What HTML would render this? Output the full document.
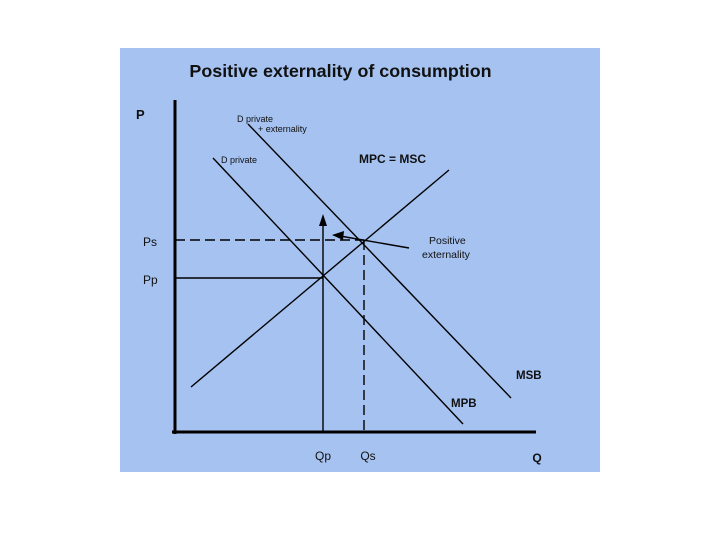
<!DOCTYPE html>
<html><head><meta charset="utf-8"><style>
html,body{margin:0;padding:0;background:#fff;}
svg{display:block;font-family:"Liberation Sans",Arial,sans-serif;}
</style></head><body>
<svg width="720" height="540" viewBox="0 0 720 540">
<rect x="120" y="48" width="480" height="424" fill="#a5c2f1"/>
<text x="340.5" y="77" text-anchor="middle" font-size="17.9" font-weight="bold" fill="#111">Positive externality of consumption</text>
<g id="plot"></g>
</svg>
<script>
// Data units: quantity (0..361) and price (0..332)
const curveNames = ['d-private','d-private-externality','mpc-msc'];
const curveQ1 = [38, 73, 16];
const curveP1 = [274, 308, 45];
const curveQ2 = [288, 336, 274];
const curveP2 = [8, 34, 262];
const Qp = 148, Qs = 189, Pp = 154, Ps = 192;
const labels = ['P','Ps','Pp','Qp','Qs','Q'];

const X = q => 175 + q;
const Y = p => 432 - p;
const g = document.getElementById('plot');
const NS = 'http://www.w3.org/2000/svg';
function mk(tag, attrs){const e=document.createElementNS(NS,tag);for(const k in attrs)e.setAttribute(k,attrs[k]);g.appendChild(e);return e;}

let e;
e = mk('line',{x1:X(0),y1:Y(332),x2:X(0),y2:Y(-2),stroke:'#000','stroke-width':3});


e = mk('line',{x1:X(-3),y1:Y(0),x2:X(361),y2:Y(0),stroke:'#000','stroke-width':3});



for(let i=0;i<curveNames.length;i++){
  e = mk('line',{x1:X(curveQ1[i]),y1:Y(curveP1[i]),x2:X(curveQ2[i]),y2:Y(curveP2[i]),stroke:'#000','stroke-width':1.4});
  
  
}
e = mk('line',{x1:X(0),y1:Y(Pp),x2:X(Qp),y2:Y(Pp),stroke:'#000','stroke-width':1.4});


e = mk('line',{x1:X(Qp),y1:Y(Pp),x2:X(Qp),y2:Y(0),stroke:'#000','stroke-width':1.4});


e = mk('line',{x1:X(0),y1:Y(Ps),x2:X(Qs),y2:Y(Ps),stroke:'#000','stroke-width':1.4,'stroke-dasharray':'10,5'});


e = mk('line',{x1:X(Qs),y1:Y(Ps),x2:X(Qs),y2:Y(0),stroke:'#000','stroke-width':1.4,'stroke-dasharray':'10,5'});


// up arrow
e = mk('line',{x1:X(Qp),y1:Y(Pp),x2:X(Qp),y2:Y(Pp+58),stroke:'#000','stroke-width':1.4});


e = mk('polygon',{points:`${X(Qp)},${Y(Pp+64)} ${X(Qp)-4},${Y(Pp+52)} ${X(Qp)+4},${Y(Pp+52)}`,fill:'#000'});


// externality pointer
e = mk('line',{x1:409,y1:248,x2:340,y2:236,stroke:'#000','stroke-width':1.4});


e = mk('polygon',{points:'332,235 344,231 343,240',fill:'#000'});



function txt(x,y,s,size,bold,name,anchor){
  const t=mk('text',{x:x,y:y,'font-size':size,'font-weight':bold?'bold':'normal',fill:'#111','text-anchor':anchor||'start'});
  t.textContent=s;
  
  
}
txt(136,119,labels[0],13,true,'y-axis-label');
txt(143,246,labels[1],12,false,'ps-label');
txt(143,284,labels[2],12,false,'pp-label');
txt(323,460,labels[3],12,false,'qp-label','middle');
txt(368,460,labels[4],12,false,'qs-label','middle');
txt(537,462,labels[5],12,true,'x-axis-label','middle');
txt(237,122,'D private',9,false,'d-private-ext-label-1');
txt(258,132,'+ externality',9,false,'d-private-ext-label-2');
txt(221,163,'D private',9,false,'d-private-label');
txt(359,163,'MPC = MSC',12,true,'mpc-msc-label');
txt(429,244,'Positive',10.5,false,'positive-label-1');
txt(422,258,'externality',10.5,false,'positive-label-2');
txt(516,379,'MSB',11.5,true,'msb-label');
txt(451,407,'MPB',11.5,true,'mpb-label');
</script>
</body></html>
